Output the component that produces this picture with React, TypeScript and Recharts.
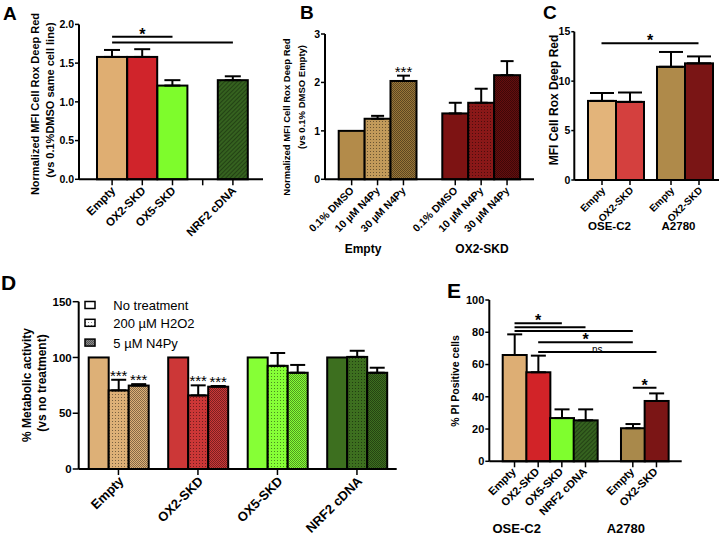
import React from 'react';
import { BarChart, Bar, XAxis, YAxis, ErrorBar, LabelList, ReferenceLine } from 'recharts';

const FONT = '"Liberation Sans", Arial, Helvetica, sans-serif';

// A - normalized MFI, cell lines
const aCategories = ['Empty', 'OX2-SKD', 'OX5-SKD', '', 'NRF2 cDNA'];
const aValues = [1.58, 1.58, 1.21, null, 1.28];
const aErrors = [0.09, 0.1, 0.07, null, 0.05];
const aTicks = [0, 0.5, 1, 1.5, 2];
const aSig = [
  { from: 0, to: 2, y: 1.84, text: '*' },
  { from: 0, to: 4, y: 1.765, text: '' },
];

// B - N4Py dose
const bCategories = ['0.1% DMSO', '10 µM N4Py', '30 µM N4Py', '', '0.1% DMSO', '10 µM N4Py', '30 µM N4Py'];
const bGroups = ['Empty', 'OX2-SKD'];
const bValues = [1.0, 1.25, 2.03, null, 1.36, 1.58, 2.15];
const bErrors = [null, 0.06, 0.11, null, 0.22, 0.29, 0.29];
const bMarks = ['', '', '***', '', '', '', ''];
const bTicks = [0, 1, 2, 3];

// C - raw MFI, two cell lines
const cGroups = ['OSE-C2', 'A2780'];
const cSeries = ['Empty', 'OX2-SKD'];
const cEmpty = [8.0, 11.45];
const cEmptyErr = [0.8, 1.5];
const cOx2 = [7.9, 11.8];
const cOx2Err = [0.95, 0.7];
const cTicks = [0, 5, 10, 15];
const cSig = [{ from: 'OSE-C2', to: 'A2780', y: 13.83, text: '*' }];

// D - metabolic activity
const dCategories = ['Empty', 'OX2-SKD', 'OX5-SKD', 'NRF2 cDNA'];
const dSeriesNames = ['No treatment', '200 µM H2O2', '5 µM N4Py'];
const dNone = [100, 100, 100, 100];
const dH2o2 = [70.5, 66, 92.5, 100.5];
const dH2o2Err = [9.5, 9, 11.5, 5.5];
const dN4py = [74.8, 73.8, 86.3, 86.3];
const dN4pyErr = [1.3, 0.6, 7, 4.5];
const dH2o2Marks = ['***', '***', '', ''];
const dN4pyMarks = ['***', '***', '', ''];
const dTicks = [0, 50, 100, 150];

// E - PI positive cells
const eCategories = ['Empty', 'OX2-SKD', 'OX5-SKD', 'NRF2 cDNA', '', 'Empty', 'OX2-SKD'];
const eGroups = ['OSE-C2', 'A2780'];
const eValues = [65.9, 55.2, 26.8, 25.4, null, 20.5, 37.4];
const eErrors = [12.8, 10.3, 5.4, 6.8, null, 2.6, 4.7];
const eTicks = [0, 20, 40, 60, 80, 100];
const eSig = [
  { from: 0, to: 2, y: 85.6, text: '*' },
  { from: 0, to: 3, y: 83.1, text: '' },
  { from: 0, to: 5, y: 80.8, text: '' },
  { from: 1, to: 5, y: 73.8, text: '*' },
  { from: 1, to: 6, y: 67.8, text: 'ns' },
  { from: 5, to: 6, y: 45.6, text: '*' },
];

// colours / fills
const aColors = ['#DFAE72', '#D0242B', '#7EFC2C', '', '#35621F'];
const aFills = ['', '', '', '', 'pHatch'];
const bColors = ['#B38B4A', '#C29A5A', '#9A7638', '', '#7D1313', '#8A1818', '#650E0E'];
const bFills = ['', 'pDots', 'pChecker', '', '', 'pDots', 'pChecker'];
const cEmptyColors = ['#E3B47A', '#AF8A4A'];
const cOx2Colors = ['#D4403E', '#7A1515'];
const dColors = ['#DDB077', '#CC3737', '#86FF36', '#3D6F1F'];
const eColors = ['#DDAE74', '#D22328', '#7FFE2E', '#35621F', '', '#A9894B', '#7B1515'];
const eFills = ['', '', '', 'pHatch', '', '', ''];

const TICK = 6;

const rows = (prefix, cats, vals, errs) =>
  cats.map((c, i) => ({ key: prefix + i, label: c, value: vals[i], err: errs[i] ? [0, errs[i]] : null }));

const aData = rows('a', aCategories, aValues, aErrors);
const bData = rows('b', bCategories, bValues, bErrors);
const eData = rows('e', eCategories, eValues, eErrors);
const cData = cGroups.map((g, i) => ({
  group: g,
  empty: cEmpty[i],
  emptyErr: [0, cEmptyErr[i]],
  ox2: cOx2[i],
  ox2Err: [0, cOx2Err[i]],
}));
const dData = dCategories.map((n, i) => ({
  name: n,
  none: dNone[i],
  h2o2: dH2o2[i],
  h2o2Err: [0, dH2o2Err[i]],
  n4py: dN4py[i],
  n4pyErr: [0, dN4pyErr[i]],
}));

function margins(box, plot, yW, xH) {
  return {
    top: plot.top - box.top,
    bottom: box.top + box.h - plot.bottom - xH,
    left: plot.left - box.left - yW,
    right: box.left + box.w - plot.right,
  };
}

function PatternBar(props) {
  const { x, y, width, height, color, pattern } = props;
  if (!color || height == null || height <= 0) return null;
  return (
    <g>
      <rect x={x} y={y} width={width} height={height} fill={color} />
      {pattern ? <rect x={x} y={y} width={width} height={height} fill={`url(#${pattern})`} /> : null}
      <rect x={x} y={y} width={width} height={height} fill="none" stroke="#000" strokeWidth={2} />
    </g>
  );
}

function SlantText({ x, y, text, size }) {
  return (
    <text x={x} y={y} transform={`rotate(-45 ${x} ${y})`} textAnchor="end" fontSize={size}
      fontWeight="bold" fontFamily={FONT} fill="#000">{text}</text>
  );
}

function SlantTick({ x, y, text, size, dx, dy, showLine }) {
  const ax = y - TICK;
  return (
    <g>
      {showLine ? <line x1={x} y1={ax} x2={x} y2={ax + TICK} stroke="#000" strokeWidth={1.5} /> : null}
      {text ? <SlantText x={x + dx} y={ax + dy} text={text} size={size} /> : null}
    </g>
  );
}

const idx = (v) => parseInt(String(v).slice(1), 10);
// row index from the bar's own payload (recharts skips null rows when numbering)
const rowOf = (p) => idx(p.payload ? p.payload.key : p.key);

const vbOf = (p) => {
  const vb = p.viewBox || {};
  return { x: vb.x ?? p.x, y: vb.y ?? p.y, width: vb.width ?? p.width, height: vb.height ?? p.height };
};

// stars sitting on top of the error bar
const starLabel = (values, errors, marks, size) => (p) => {
  const i = p.index;
  const mark = marks[i];
  if (!mark) return null;
  const { x, y, width, height } = vbOf(p);
  const v = values[i];
  const e = errors[i] || 0;
  const top = y - (v ? (e * height) / v : 0);
  return (
    <text x={x + width / 2} y={top + 1} textAnchor="middle" fontSize={size} fontFamily={FONT} fill="#000">{mark}</text>
  );
};

// per-bar tick + slanted label, used when bars are grouped
const barTickLabel = (text, size) => (p) => {
  const { x, y, width, height } = vbOf(p);
  const cx = x + width / 2;
  const base = y + height;
  return (
    <g>
      <line x1={cx} y1={base} x2={cx} y2={base + 5} stroke="#000" strokeWidth={1.5} />
      <SlantText x={cx + 4} y={base + 11} text={text} size={size} />
    </g>
  );
};

const sigLabel = (text) => ({
  value: text,
  position: 'top',
  offset: text === 'ns' ? -1 : -3,
  fontSize: text === 'ns' ? 10 : 16,
  fontWeight: text === 'ns' ? 'normal' : 'bold',
  fontFamily: FONT,
  fill: '#000',
});

const axisLine = { stroke: '#000', strokeWidth: 2 };
const yTickLine = { stroke: '#000', strokeWidth: 1.5 };
const yTick = (size) => ({ fontSize: size, fontWeight: 'bold', fill: '#000', fontFamily: FONT });

const boxA = { left: 0, top: 0, w: 270, h: 270 };
const boxB = { left: 270, top: 0, w: 270, h: 270 };
const boxC = { left: 540, top: 0, w: 180, h: 270 };
const boxD = { left: 0, top: 270, w: 440, h: 273 };
const boxE = { left: 440, top: 270, w: 280, h: 273 };

const C_BAR = 28;

function Panel({ box, children }) {
  return <div style={{ position: 'absolute', left: box.left, top: box.top }}>{children}</div>;
}

export default function App() {
  return (
    <div style={{ position: 'absolute', left: 0, top: 0, width: 720, height: 543, background: '#fff', fontFamily: FONT }}>
      <svg width={0} height={0} style={{ position: 'absolute' }}>
        <defs>
          <pattern id="pDots" width={3} height={3} patternUnits="userSpaceOnUse">
            <rect x={1} y={1} width={1} height={1} fill="rgba(0,0,0,0.45)" />
          </pattern>
          <pattern id="pChecker" width={2} height={2} patternUnits="userSpaceOnUse">
            <rect x={0} y={0} width={1} height={1} fill="rgba(0,0,0,0.4)" />
            <rect x={1} y={1} width={1} height={1} fill="rgba(0,0,0,0.4)" />
          </pattern>
          <pattern id="pHatch" width={3} height={3} patternUnits="userSpaceOnUse" patternTransform="rotate(45)">
            <line x1={0} y1={0} x2={0} y2={3} stroke="rgba(0,0,0,0.55)" strokeWidth={1.2} />
          </pattern>
        </defs>
      </svg>

      {/* A */}
      <Panel box={boxA}>
        <BarChart width={boxA.w} height={boxA.h} data={aData} barCategoryGap={0}
          margin={margins(boxA, { left: 79, right: 263, top: 24.4, bottom: 179.3 }, 30, 50)}>
          <XAxis dataKey="key" height={50} interval={0} axisLine={axisLine} tickLine={false}
            tickSize={TICK} tickMargin={0} padding={{ left: 18, right: 15 }}
            tick={(p) => <SlantTick {...p} text={aCategories[idx(p.payload.value)]} size={11.5} dx={4} dy={12} showLine />} />
          <YAxis width={30} domain={[0, 2]} ticks={aTicks} tickFormatter={(v) => v.toFixed(1)}
            axisLine={axisLine} tickLine={yTickLine} tickSize={4} tickMargin={1} tick={yTick(10.5)} />
          <Bar dataKey="value" isAnimationActive={false}
            shape={(p) => <PatternBar {...p} color={aColors[rowOf(p)]} pattern={aFills[rowOf(p)]} />}>
            <ErrorBar dataKey="err" width={8} strokeWidth={2} stroke="#000" direction="y" />
          </Bar>
          {aSig.map((s, i) => (
            <ReferenceLine key={i} segment={[{ x: 'a' + s.from, y: s.y }, { x: 'a' + s.to, y: s.y }]}
              stroke="#000" strokeWidth={2} label={s.text ? sigLabel(s.text) : undefined} />
          ))}
        </BarChart>
      </Panel>

      {/* B */}
      <Panel box={boxB}>
        <BarChart width={boxB.w} height={boxB.h} data={bData} barCategoryGap={0}
          margin={margins(boxB, { left: 325, right: 534, top: 34, bottom: 179.3 }, 30, 50)}>
          <XAxis dataKey="key" height={50} interval={0} axisLine={axisLine} tickLine={false}
            tickSize={TICK} tickMargin={0} padding={{ left: 13.7, right: 14 }}
            tick={(p) => {
              const t = bCategories[idx(p.payload.value)];
              return <SlantTick {...p} text={t} size={10.5} dx={3} dy={12} showLine={!!t} />;
            }} />
          <YAxis width={30} domain={[0, 3]} ticks={bTicks}
            axisLine={axisLine} tickLine={yTickLine} tickSize={4} tickMargin={1} tick={yTick(10.5)} />
          <Bar dataKey="value" isAnimationActive={false}
            shape={(p) => <PatternBar {...p} color={bColors[rowOf(p)]} pattern={bFills[rowOf(p)]} />}>
            <ErrorBar dataKey="err" width={6.5} strokeWidth={2} stroke="#000" direction="y" />
            <LabelList content={starLabel(bValues, bErrors, bMarks, 15)} />
          </Bar>
        </BarChart>
      </Panel>

      {/* C */}
      <Panel box={boxC}>
        <BarChart width={boxC.w} height={boxC.h} data={cData} barSize={C_BAR} barGap={0}
          margin={margins(boxC, { left: 574.3, right: 719, top: 31.7, bottom: 180 }, 30, 50)}>
          <XAxis dataKey="group" height={50} interval={0} axisLine={axisLine} tickLine={false}
            tickSize={0} tickMargin={0} padding={{ left: 6.7, right: 0 }}
            tick={(p) => (
              <text x={p.x - 6} y={p.y + 50} textAnchor="middle" fontSize={11.5} fontWeight="bold"
                fontFamily={FONT} fill="#000">{p.payload.value}</text>
            )} />
          <YAxis width={30} domain={[0, 15]} ticks={cTicks}
            axisLine={axisLine} tickLine={yTickLine} tickSize={3} tickMargin={1} tick={yTick(10.5)} />
          <Bar dataKey="empty" name={cSeries[0]} isAnimationActive={false}
            shape={(p) => <PatternBar {...p} color={cEmptyColors[p.index]} />}>
            <ErrorBar dataKey="emptyErr" width={12} strokeWidth={2} stroke="#000" direction="y" />
            <LabelList content={barTickLabel(cSeries[0], 10)} />
          </Bar>
          <Bar dataKey="ox2" name={cSeries[1]} isAnimationActive={false}
            shape={(p) => <PatternBar {...p} color={cOx2Colors[p.index]} />}>
            <ErrorBar dataKey="ox2Err" width={12} strokeWidth={2} stroke="#000" direction="y" />
            <LabelList content={barTickLabel(cSeries[1], 10)} />
          </Bar>
          {cSig.map((s, i) => (
            <ReferenceLine key={i} segment={[{ x: s.from, y: s.y }, { x: s.to, y: s.y }]}
              stroke="#000" strokeWidth={2} label={sigLabel(s.text)}
              shape={(p) => (
                <line x1={p.x1 - C_BAR / 2} y1={p.y1} x2={p.x2 + C_BAR / 2} y2={p.y2} stroke="#000" strokeWidth={2} />
              )} />
          ))}
        </BarChart>
      </Panel>

      {/* D */}
      <Panel box={boxD}>
        <BarChart width={boxD.w} height={boxD.h} data={dData} barSize={20} barGap={0}
          margin={margins(boxD, { left: 78.7, right: 396.7, top: 301.7, bottom: 469 }, 30, 50)}>
          <XAxis dataKey="name" height={50} interval={0} axisLine={axisLine} tickLine={false}
            tickSize={TICK} tickMargin={0}
            tick={(p) => <SlantTick {...p} text={p.payload.value} size={13} dx={6} dy={13} showLine />} />
          <YAxis width={30} domain={[0, 150]} ticks={dTicks}
            axisLine={axisLine} tickLine={yTickLine} tickSize={6} tickMargin={1} tick={yTick(11.5)} />
          <Bar dataKey="none" name={dSeriesNames[0]} isAnimationActive={false}
            shape={(p) => <PatternBar {...p} color={dColors[p.index]} />} />
          <Bar dataKey="h2o2" name={dSeriesNames[1]} isAnimationActive={false}
            shape={(p) => <PatternBar {...p} color={dColors[p.index]} pattern="pDots" />}>
            <ErrorBar dataKey="h2o2Err" width={7.5} strokeWidth={2} stroke="#000" direction="y" />
            <LabelList content={starLabel(dH2o2, dH2o2Err, dH2o2Marks, 15)} />
          </Bar>
          <Bar dataKey="n4py" name={dSeriesNames[2]} isAnimationActive={false}
            shape={(p) => <PatternBar {...p} color={dColors[p.index]} pattern="pChecker" />}>
            <ErrorBar dataKey="n4pyErr" width={7.5} strokeWidth={2} stroke="#000" direction="y" />
            <LabelList content={starLabel(dN4py, dN4pyErr, dN4pyMarks, 15)} />
          </Bar>
        </BarChart>
      </Panel>

      {/* E */}
      <Panel box={boxE}>
        <BarChart width={boxE.w} height={boxE.h} data={eData} barCategoryGap={0}
          margin={margins(boxE, { left: 489.3, right: 681.7, top: 300, bottom: 461.3 }, 30, 50)}>
          <XAxis dataKey="key" height={50} interval={0} axisLine={axisLine} tickLine={false}
            tickSize={TICK} tickMargin={0} padding={{ left: 13.4, right: 13.4 }}
            tick={(p) => {
              const t = eCategories[idx(p.payload.value)];
              return <SlantTick {...p} text={t} size={11} dx={2} dy={11} showLine={!!t} />;
            }} />
          <YAxis width={30} domain={[0, 100]} ticks={eTicks}
            axisLine={axisLine} tickLine={yTickLine} tickSize={4} tickMargin={1} tick={yTick(11)} />
          <Bar dataKey="value" isAnimationActive={false}
            shape={(p) => <PatternBar {...p} color={eColors[rowOf(p)]} pattern={eFills[rowOf(p)]} />}>
            <ErrorBar dataKey="err" width={7.5} strokeWidth={2} stroke="#000" direction="y" />
          </Bar>
          {eSig.map((s, i) => (
            <ReferenceLine key={i} segment={[{ x: 'e' + s.from, y: s.y }, { x: 'e' + s.to, y: s.y }]}
              stroke="#000" strokeWidth={2} label={s.text ? sigLabel(s.text) : undefined} />
          ))}
        </BarChart>
      </Panel>

      {/* letters, axis titles, group labels, legend */}
      <svg width={720} height={543} style={{ position: 'absolute', left: 0, top: 0, pointerEvents: 'none' }}
        fontFamily={FONT} fill="#000">
        <text x={3} y={20} fontSize={19} fontWeight="bold">A</text>
        <text x={300} y={18.5} fontSize={19} fontWeight="bold">B</text>
        <text x={543} y={18.5} fontSize={19} fontWeight="bold">C</text>
        <text x={1} y={290} fontSize={21} fontWeight="bold">D</text>
        <text x={447} y={298} fontSize={21} fontWeight="bold">E</text>

        <g fontWeight="bold" textAnchor="middle" style={{ whiteSpace: 'pre' }}>
          <text transform="translate(38.9,104) rotate(-90)" fontSize={11}>Normalized MFI Cell Rox  Deep Red</text>
          <text transform="translate(53.9,100) rotate(-90)" fontSize={11}>(vs 0.1%DMSO same cell line)</text>
          <text transform="translate(290,117) rotate(-90)" fontSize={9.5}>Normalized MFI Cell Rox Deep Red</text>
          <text transform="translate(305,97) rotate(-90)" fontSize={9.5}>(vs 0.1% DMSO Empty)</text>
          <text transform="translate(558,100) rotate(-90)" fontSize={12}>MFI Cell Rox Deep Red</text>
          <text transform="translate(31,385) rotate(-90)" fontSize={12}>% Metabolic activity</text>
          <text transform="translate(46,383) rotate(-90)" fontSize={12}>(vs no treatment)</text>
          <text transform="translate(458.7,381) rotate(-90)" fontSize={10.5}>% PI  Positive cells</text>

          <text x={363} y={253} fontSize={12}>{bGroups[0]}</text>
          <text x={482} y={253} fontSize={12}>{bGroups[1]}</text>
          <text x={516.7} y={533} fontSize={13}>{eGroups[0]}</text>
          <text x={625.8} y={533} fontSize={13}>{eGroups[1]}</text>
        </g>

        {dSeriesNames.map((n, i) => {
          const cy = [305, 322.8, 342.6][i];
          const base = ['#fff', '#fff', '#8a8a8a'][i];
          const pat = ['', 'pDots', 'pChecker'][i];
          return (
            <g key={n}>
              <rect x={85} y={cy - 3.5} width={10} height={7} fill={base} />
              {pat ? <rect x={85} y={cy - 3.5} width={10} height={7} fill={`url(#${pat})`} /> : null}
              <rect x={85} y={cy - 3.5} width={10} height={7} fill="none" stroke="#000" strokeWidth={1.5} />
              <text x={113.3} y={cy + 5} fontSize={13}>{n}</text>
            </g>
          );
        })}
      </svg>
    </div>
  );
}
